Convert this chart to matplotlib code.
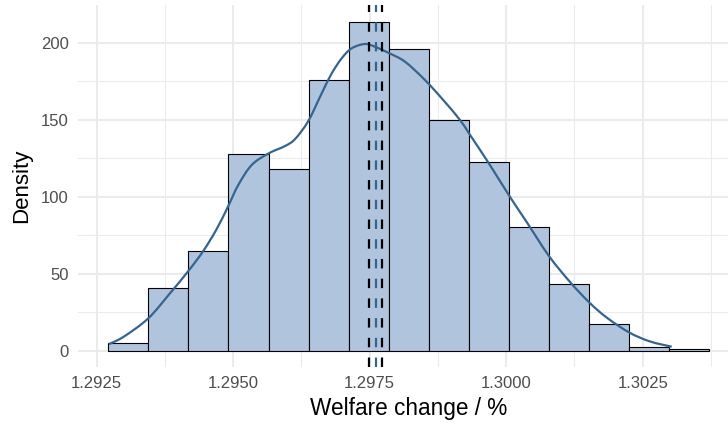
import numpy as np
import matplotlib
matplotlib.use("Agg")
import matplotlib.pyplot as plt
from matplotlib.path import Path
from matplotlib.patches import PathPatch
from matplotlib.ticker import MultipleLocator, FixedLocator

plt.rcParams['font.family'] = ['Liberation Sans', 'DejaVu Sans']
plt.rcParams['lines.scale_dashes'] = False

# Histogram of welfare change (density scale)
bin_start = 1.292712
bin_width = 0.00073387
bin_density = [5.4, 40.7, 65.1, 127.8, 118.3, 175.6, 213.4, 195.9,
               149.7, 122.4, 80.2, 43.3, 17.5, 2.8, 1.1]

# Kernel density estimate
kde_x = [1.292725, 1.292996, 1.293445, 1.293846, 1.294178, 1.294452,
         1.294697, 1.294910, 1.295093, 1.295339, 1.295643, 1.295949,
         1.296132, 1.296375, 1.296621, 1.296804, 1.296987, 1.297170,
         1.297414, 1.297597, 1.297841, 1.298147, 1.298513, 1.298848,
         1.299154, 1.299319, 1.299643, 1.299886, 1.300130, 1.300375,
         1.300784, 1.301169, 1.301522, 1.301841, 1.302255, 1.302634,
         1.303031]
kde_y = [4.5, 9.3, 21.2, 37.6, 51.9, 64.9, 79.1, 94.1, 107.7, 120.7,
         128.1, 133.0, 137.5, 149.2, 167.2, 180.1, 189.9, 196.4, 199.2,
         197.4, 193.5, 187.7, 175.8, 162.8, 149.9, 141.2, 123.9, 110.3,
         96.7, 83.7, 61.6, 44.8, 31.5, 21.7, 12.0, 6.2, 2.8]

# Mean and interval bounds
mean_value = 1.297610
interval_bounds = [1.297482, 1.297725]

x_ticks = [1.2925, 1.2950, 1.2975, 1.3000, 1.3025]
x_tick_labels = ["1.2925", "1.2950", "1.2975", "1.3000", "1.3025"]
y_ticks = [0, 50, 100, 150, 200]

fill_col = "#B0C4DE"
line_col = "#35658F"
grid_col = "#EBEBEB"


def smooth_path(xs, ys):
    """Catmull-Rom curve through the points, as cubic Bezier segments."""
    p = np.column_stack([xs, ys]).astype(float)
    ext = np.vstack([p[0], p, p[-1]])
    verts = [p[0]]
    codes = [Path.MOVETO]
    for i in range(1, len(ext) - 2):
        p0, p1, p2, p3 = ext[i - 1], ext[i], ext[i + 1], ext[i + 2]
        c1 = p1 + (p2 - p0) / 6.0
        c2 = p2 - (p3 - p1) / 6.0
        verts += [c1, c2, p2]
        codes += [Path.CURVE4] * 3
    return Path(verts, codes)


W, H = 728, 425
fig = plt.figure(figsize=(W / 100, H / 100), dpi=100)
left, right, bottom, top = 78.3, 739.0, 58.3, 420.0
ax = fig.add_axes([left / W, bottom / H, (right - left) / W, (top - bottom) / H])

edges = bin_start + bin_width * np.arange(len(bin_density) + 1)
ax.bar(edges[:-1], bin_density, width=bin_width, align='edge',
       color=fill_col, edgecolor='black', linewidth=0.8, zorder=2)

ax.add_patch(PathPatch(smooth_path(kde_x, kde_y), facecolor='none',
                       edgecolor=line_col, linewidth=1.6, zorder=3,
                       capstyle='butt', joinstyle='round'))

for xb in interval_bounds:
    ax.axvline(xb, color='black', linewidth=1.6, dashes=(6.8, 7.4), zorder=4)
ax.axvline(mean_value, color=line_col, linewidth=1.6, dashes=(6.8, 7.4), zorder=4)

ax.set_xlim(1.292163, 1.304264)
ax.set_ylim(-10.18, 224.5)

ax.xaxis.set_major_locator(FixedLocator(x_ticks))
ax.set_xticklabels(x_tick_labels)
ax.xaxis.set_minor_locator(MultipleLocator(0.00125))
ax.yaxis.set_major_locator(FixedLocator(y_ticks))
ax.yaxis.set_minor_locator(MultipleLocator(25))

ax.grid(which='major', color=grid_col, linewidth=1.5, zorder=0)
ax.grid(which='minor', color=grid_col, linewidth=0.75, zorder=0)
ax.set_axisbelow(True)

for s in ax.spines.values():
    s.set_visible(False)
ax.tick_params(which='both', length=0)
ax.tick_params(axis='x', labelsize=12, labelcolor='#4D4D4D', pad=7)
ax.tick_params(axis='y', labelsize=12, labelcolor='#4D4D4D', pad=7)

ax.set_xlabel("Welfare change / %", fontsize=16.3, color='black', labelpad=4)
ax.set_ylabel("Density", fontsize=16, color='black', labelpad=6)

fig.savefig("out.png", dpi=100)
